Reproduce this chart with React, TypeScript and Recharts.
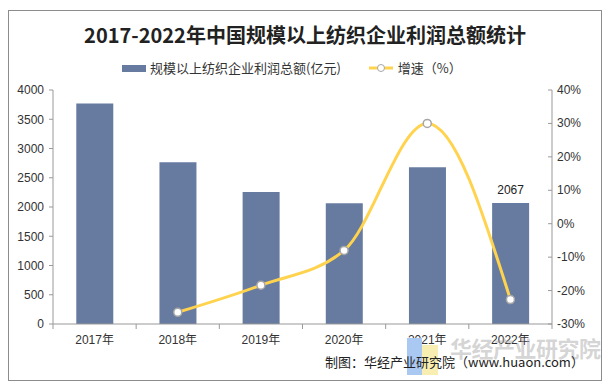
import React from "react";
import {
  ComposedChart,
  Bar,
  Line,
  XAxis,
  YAxis,
  LabelList,
} from "recharts";

const years = ["2017年", "2018年", "2019年", "2020年", "2021年", "2022年"];
const profit = [3770, 2765, 2255, 2065, 2680, 2067];
const growth: (number | null)[] = [null, -26.5, -18.4, -8.0, 30.0, -22.7];
const leftTicks = [0, 500, 1000, 1500, 2000, 2500, 3000, 3500, 4000];
const rightTicks = [-30, -20, -10, 0, 10, 20, 30, 40];

const data = years.map((year, i) => ({
  year,
  profit: profit[i],
  growth: growth[i],
}));

const PLOT_LEFT = 53;
const PLOT_RIGHT = 552;
const BAND = (PLOT_RIGHT - PLOT_LEFT) / years.length;
const BAR_COLOR = "#677ba0";
const LINE_COLOR = "#ffd34e";
const AXIS_COLOR = "#999";
const FONT = "'Liberation Sans', Arial, 'Noto Sans CJK SC', sans-serif";
const CJK = "'Noto Sans CJK SC', sans-serif";

function XTick(props: any) {
  const { x, y, payload, index } = props;
  const last = index === years.length - 1;
  return (
    <g>
      <line x1={x - BAND / 2} x2={x - BAND / 2} y1={y} y2={y + 5} stroke={AXIS_COLOR} />
      {last && (
        <line x1={x + BAND / 2} x2={x + BAND / 2} y1={y} y2={y + 5} stroke={AXIS_COLOR} />
      )}
      <text x={x} y={y + 20} textAnchor="middle" fontSize={12} fill="#333" fontFamily={FONT}>
        {payload.value}
      </text>
    </g>
  );
}

function RightTick(props: any) {
  const { x, y, payload } = props;
  return (
    <g>
      <line x1={x - 4} x2={x} y1={y} y2={y} stroke={AXIS_COLOR} />
      <text x={x + 5} y={y + 4} textAnchor="start" fontSize={12} fill="#333" fontFamily={FONT}>
        {payload.value}%
      </text>
    </g>
  );
}

function GrowthDot(props: any) {
  const { cx, cy, value } = props;
  if (value == null || cx == null || cy == null) return <g />;
  return <circle cx={cx} cy={cy} r={4} fill="#fff" stroke="#a6a6a6" strokeWidth={1.5} />;
}

function LastLabel(props: any) {
  const { x, y, width, index, value } = props;
  if (index !== years.length - 1) return null;
  return (
    <text x={x + width / 2} y={y - 9} textAnchor="middle" fontSize={12} fill="#222" fontFamily={FONT}>
      {value}
    </text>
  );
}

export default function App() {
  return (
    <div style={{ position: "relative", width: 594, height: 376, margin: 0 }}>
      <div
        style={{
          position: "absolute",
          left: 0,
          top: 2,
          width: 592,
          height: 369,
          border: "1px solid #8c8c8c",
        }}
      />
      <div style={{ position: "absolute", left: -8, top: -8 }}>
        <ComposedChart
          width={610}
          height={392}
          data={data}
          margin={{ top: 90, right: 0, left: 0, bottom: 38 }}
          barCategoryGap="28%"
        >
          <XAxis
            dataKey="year"
            height={30}
            axisLine={{ stroke: AXIS_COLOR }}
            tickLine={false}
            tickSize={0}
            tickMargin={0}
            tick={<XTick />}
            interval={0}
          />
          <YAxis
            yAxisId="left"
            width={PLOT_LEFT}
            domain={[0, 4000]}
            ticks={leftTicks}
            axisLine={{ stroke: AXIS_COLOR }}
            tickLine={{ stroke: AXIS_COLOR }}
            tickSize={4}
            tickMargin={5}
            tick={{ fontSize: 12, fill: "#333", fontFamily: FONT }}
            interval={0}
          />
          <YAxis
            yAxisId="right"
            orientation="right"
            width={610 - PLOT_RIGHT}
            domain={[-30, 40]}
            ticks={rightTicks}
            axisLine={{ stroke: AXIS_COLOR }}
            tickLine={false}
            tickSize={0}
            tickMargin={0}
            tick={<RightTick />}
            interval={0}
          />
          <Bar yAxisId="left" dataKey="profit" fill={BAR_COLOR} isAnimationActive={false}>
            <LabelList dataKey="profit" content={<LastLabel />} />
          </Bar>
          <Line
            yAxisId="right"
            type="monotone"
            dataKey="growth"
            stroke={LINE_COLOR}
            strokeWidth={3}
            dot={<GrowthDot />}
            activeDot={false}
            isAnimationActive={false}
          />
        </ComposedChart>
      </div>

      {/* title */}
      <div
        style={{
          position: "absolute",
          left: -8,
          top: 14,
          width: 610,
          textAlign: "center",
          fontFamily: CJK,
          fontWeight: 700,
          fontSize: 20,
          color: "#222",
          lineHeight: "26px",
        }}
      >
        2017-2022年中国规模以上纺织企业利润总额统计
      </div>

      {/* legend */}
      <div
        style={{
          position: "absolute",
          left: 114,
          top: 51,
          display: "flex",
          alignItems: "center",
          fontFamily: CJK,
          fontSize: 13,
          color: "#333",
          lineHeight: "18px",
        }}
      >
        <span style={{ display: "inline-block", width: 24, height: 7, background: BAR_COLOR, marginRight: 4 }} />
        <span>规模以上纺织企业利润总额(亿元)</span>
        <svg width={24} height={10} style={{ marginLeft: 28, marginRight: 5 }}>
          <line x1={0} x2={24} y1={5} y2={5} stroke={LINE_COLOR} strokeWidth={3} />
          <circle cx={12} cy={5} r={3.5} fill="#fff" stroke="#a6a6a6" strokeWidth={1} />
        </svg>
        <span>增速（%）</span>
      </div>

      {/* logo blocks */}
      <div style={{ position: "absolute", left: 399, top: 330, width: 15, height: 37, background: "#a9c8f2" }} />
      <div style={{ position: "absolute", left: 414, top: 337, width: 16, height: 30, background: "#f8eeb2" }} />

      {/* watermark */}
      <div
        style={{
          position: "absolute",
          left: 442,
          top: 325,
          fontFamily: CJK,
          fontWeight: 700,
          fontSize: 22,
          color: "rgba(160,160,160,0.45)",
          lineHeight: "28px",
          letterSpacing: -0.5,
        }}
      >
        华经产业研究院
      </div>

      {/* source */}
      <div
        style={{
          position: "absolute",
          left: 317,
          top: 345,
          fontFamily: CJK,
          fontSize: 13,
          color: "#222",
          lineHeight: "18px",
          whiteSpace: "nowrap",
        }}
      >
        制图：华经产业研究院（www.huaon.com）
      </div>
    </div>
  );
}
